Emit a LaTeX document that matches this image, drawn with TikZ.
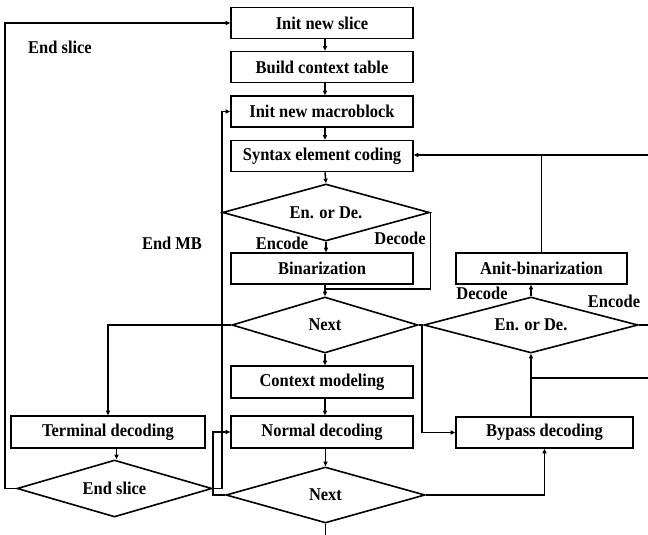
\documentclass[tikz,border=0pt]{standalone}
\usepackage{fontspec}
\setmainfont[FakeStretch=0.915]{Liberation Serif}
\usetikzlibrary{shapes.geometric,arrows.meta}
\begin{document}
\begin{tikzpicture}[x=1pt,y=-1pt,
  every node/.style={font=\fontsize{18}{20}\selectfont\bfseries},
  box/.style={draw,line width=1.6pt,rectangle,inner sep=0pt,minimum height=31pt},
  dia/.style={draw,line width=1.6pt,diamond,aspect=3.6,inner sep=0pt},
  lbl/.style={inner sep=0pt},
  conn/.style={line width=1.5pt},
  arr/.style={conn,-{Triangle[length=4.5pt,width=4pt]}}]
\useasboundingbox (0,0) rectangle (648,535);
% boxes
\node[box,minimum width=182pt] (slice) at (322,23) {Init new slice};
\node[box,minimum width=182pt] (ctx) at (322,67) {Build context table};
\node[box,minimum width=182pt] (mb) at (322,111.5) {Init new macroblock};
\node[box,minimum width=182pt] (syn) at (322,156) {Syntax element coding};
\node[dia,minimum width=207pt,minimum height=57pt] (d1) at (326,212.5) {En. or De.};
\node[box,minimum width=182pt] (bin) at (322,268.5) {Binarization};
\node[dia,minimum width=186pt,minimum height=56pt] (n1) at (325,325) {Next};
\node[box,minimum width=182pt,minimum height=32pt] (cm) at (322,382) {Context modeling};
\node[box,minimum width=182pt,minimum height=32pt] (nd) at (322,432) {Normal decoding};
\node[dia,minimum width=199pt,minimum height=56pt] (n2) at (325.5,495) {Next};
\node[box,minimum width=194pt,minimum height=32pt] (term) at (108,432) {Terminal decoding};
\node[dia,minimum width=195pt,minimum height=57pt] (es) at (114.5,488.5) {End slice};
\node[box,minimum width=171pt] (anti) at (541.5,268.5) {Anit-binarization};
\node[dia,minimum width=214pt,minimum height=56pt] (d2) at (531,325) {En. or De.};
\node[box,minimum width=177pt,minimum height=31pt] (byp) at (544.5,432.5) {Bypass decoding};
% labels
\node[lbl] (l1) at (60,47) {End slice};
\node[lbl] (l2) at (172,243) {End MB};
\node[lbl] (l3) at (282,243) {Encode};
\node[lbl] (l4) at (400,238) {Decode};
\node[lbl] (l5) at (482,293) {Decode};
\node[lbl] (l6) at (614,301) {Encode};
% coordinates
\coordinate (mx) at (325,0);
\coordinate (j1) at (325,289);
\coordinate (out) at (325.5,535);
\coordinate (c0) at (5,488.5);
\coordinate (c1) at (222,488.5);
\coordinate (c2) at (213,495);
\coordinate (c3) at (422,325);
\coordinate (r1) at (648,378);
\coordinate (r2) at (648,155);
\coordinate (r3) at (648,325);
% main column
\draw[arr] (slice.south -| mx) -- (ctx.north -| mx);
\draw[arr] (ctx.south -| mx) -- (mb.north -| mx);
\draw[arr] (mb.south -| mx) -- (syn.north -| mx);
\draw[arr] (syn.south -| mx) -- (d1.north);
\draw[arr] (d1.south) -- (bin.north -| d1.south);
\draw[conn] (d1.east) |- (j1);
\draw[arr] (bin.south -| n1.north) -- (n1.north);
\draw[arr] (n1.south) -- (cm.north -| n1.south);
\draw[arr] (cm.south -| n1.south) -- (nd.north -| n1.south);
\draw[arr] (nd.south -| n2.north) -- (n2.north);
\draw[conn] (n2.south) -- (out);
% left side
\draw[arr] (n1.west) -| (term.north);
\draw[arr] (term.south -| es.north) ++(2,0) -- ([xshift=2pt]es.north);
\draw[arr] (es.west) -- (c0) |- (slice.west);
\draw[arr] (es.east) -- (c1) |- (mb.west);
\draw[arr] (n2.west) -- (c2) |- (nd.west);
% right side
\draw[arr] (n1.east) -- (c3) |- (byp.west);
\draw[arr] (n2.east) -| (byp.south);
\draw[arr] (byp.north -| d2.south) -- (d2.south);
\draw[conn] (r1) -- (r1 -| d2.south);
\draw[arr] (d2.north) -- (anti.south -| d2.north);
\draw[conn] (d2.east) -- (r3);
\draw[arr] (r2) -- (syn.east |- r2);
\draw[conn] (anti.north) -- (anti.north |- r2);
\end{tikzpicture}
\end{document}
